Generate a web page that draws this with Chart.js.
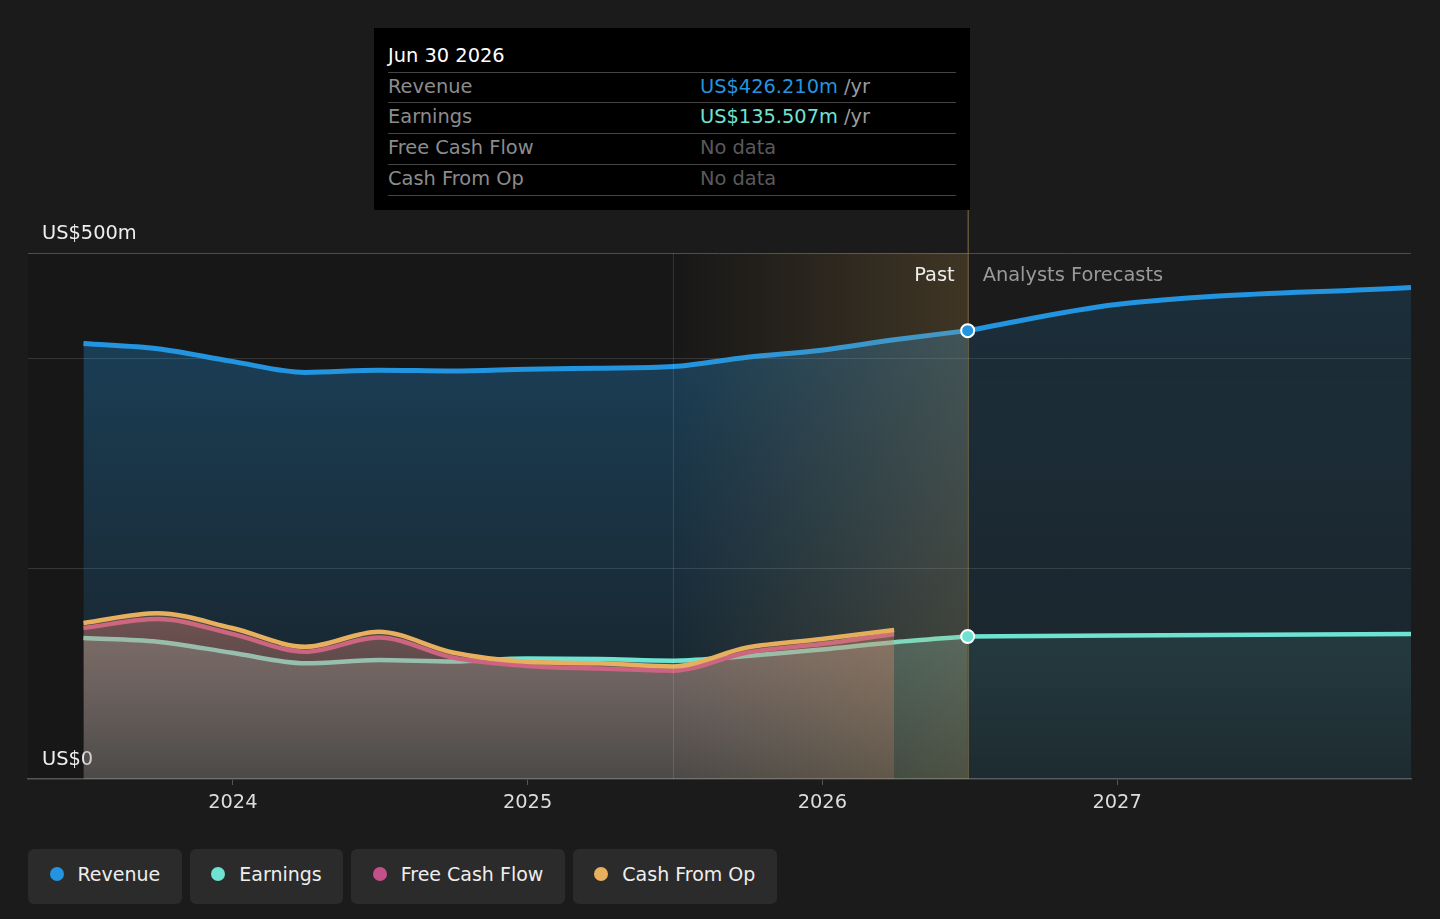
<!DOCTYPE html>
<html>
<head>
<meta charset="utf-8">
<script src="https://cdn.jsdelivr.net/npm/chart.js@4.4.0/dist/chart.umd.min.js"></script>
<style>
  body { margin: 0; background: #1b1b1b; font-family: 'DejaVu Sans', sans-serif; }
  #wrap { position: relative; width: 1440px; height: 919px; overflow: hidden; }
  #chart { position: absolute; left: 0; top: 0; }
  .tip { position: absolute; left: 374px; top: 28px; width: 596px; height: 182px; background: #000; font-size: 19.4px; }
  .tip .title { position: absolute; left: 14px; top: 15px; color: #fff; line-height: 26px; }
  .tip .sep { position: absolute; left: 14px; width: 568px; height: 1px; background: #444; }
  .tip .row { position: absolute; left: 14px; width: 568px; height: 30px; line-height: 29px; }
  .tip .lab { position: absolute; left: 0; color: #8c8c8c; }
  .tip .val { position: absolute; left: 312px; }
  .tip .unit { color: #9a9a9a; }
  .tip .nodata { color: #5a5a5a; }
  .legend { position: absolute; left: 28px; top: 849px; display: flex; gap: 8px; }
  .legend .item { box-sizing: border-box; height: 55px; padding: 0 21.5px 5px 21.5px; display: flex; align-items: center; gap: 14px; background: #2b2b2b; border-radius: 6px; color: #eee; font-size: 19px; }
  .legend .dot { width: 14px; height: 14px; border-radius: 50%; }
</style>
</head>
<body>
<div id="wrap">
  <canvas id="chart" width="1440" height="831"></canvas>
  <div class="tip">
    <div class="title">Jun 30 2026</div>
    <div class="sep" style="top:44px"></div>
    <div class="row" style="top:44px"><span class="lab">Revenue</span><span class="val" style="color:#2394df">US$426.210m<span class="unit"> /yr</span></span></div>
    <div class="sep" style="top:74px"></div>
    <div class="row" style="top:74px"><span class="lab">Earnings</span><span class="val" style="color:#6fe3d2">US$135.507m<span class="unit"> /yr</span></span></div>
    <div class="sep" style="top:105px"></div>
    <div class="row" style="top:105px"><span class="lab">Free Cash Flow</span><span class="val nodata">No data</span></div>
    <div class="sep" style="top:136px"></div>
    <div class="row" style="top:136px"><span class="lab">Cash From Op</span><span class="val nodata">No data</span></div>
    <div class="sep" style="top:167px"></div>
  </div>
  <div class="legend">
    <div class="item"><span class="dot" style="background:#2394df"></span>Revenue</div>
    <div class="item"><span class="dot" style="background:#6fe3d2"></span>Earnings</div>
    <div class="item"><span class="dot" style="background:#c4508a"></span>Free Cash Flow</div>
    <div class="item"><span class="dot" style="background:#e8b05e"></span>Cash From Op</div>
  </div>
</div>
<script>
// quarterly history (US$m, trailing twelve months)
const pastDates = ['2023-06-30', '2023-09-30', '2023-12-31', '2024-03-31', '2024-06-30', '2024-09-30',
  '2024-12-31', '2025-03-31', '2025-06-30', '2025-09-30', '2025-12-31', '2026-03-31', '2026-06-30'];
const revenuePast = [414, 409, 397, 386.5, 388.6, 387.8, 389.5, 390.5, 392, 401, 407.6, 417.5, 426.21];
const earningsPast = [134, 130.5, 120, 110, 113, 111.7, 114.5, 114, 112.4, 117, 123, 130, 135.507];

const cashDates = ['2023-06-30', '2023-09-30', '2023-12-31', '2024-03-31', '2024-06-30', '2024-09-30',
  '2024-12-31', '2025-03-31', '2025-06-30', '2025-09-30', '2025-12-31', '2026-03-31'];
const fcfPast = [143.5, 152, 138, 121, 134.6, 115.5, 107.5, 105, 103, 120.3, 128.3, 137.8];
const cfoPast = [148.3, 157.5, 143.5, 125.7, 140, 120.3, 111.5, 110, 107, 125, 133, 141.6];

// analyst forecasts
const forecastDates = ['2026-06-30', '2026-12-31', '2027-12-31'];
const revenueForecast = [426.21, 451, 467.3];
const earningsForecast = [135.507, 136.3, 137.8];

const yearTicks = [2024, 2025, 2026, 2027];
const yGridValues = [0, 200, 400, 500];
const bandStart = '2025-06-30';
const pastEnd = '2026-06-30';

function toYear(s) {
  const d = new Date(s + 'T00:00:00Z');
  const y = d.getUTCFullYear();
  const start = Date.UTC(y, 0, 1), end = Date.UTC(y + 1, 0, 1);
  return y + (d.getTime() - start) / (end - start);
}
const pts = (dates, vals) => dates.map((d, i) => ({x: toYear(d), y: vals[i]}));

function vGrad(chart, rgb, stops) {
  const {ctx, chartArea} = chart;
  if (!chartArea) return 'rgba(' + rgb + ',0.1)';
  const g = ctx.createLinearGradient(0, chartArea.top, 0, chartArea.bottom);
  stops.forEach(([p, a]) => g.addColorStop(p, 'rgba(' + rgb + ',' + a + ')'));
  return g;
}

const BLUE = '#2394df', TEAL = '#6fe3d2', PINK = '#c4508a', ORANGE = '#e8b05e';

const bgPlugin = {
  id: 'bg',
  beforeDraw(chart) {
    const {ctx, chartArea: a, scales: {x}} = chart;
    ctx.save();
    ctx.fillStyle = '#171717';
    ctx.fillRect(a.left, a.top, x.getPixelForValue(toYear(pastEnd)) - a.left, a.bottom - a.top);
    ctx.restore();
  }
};

const bandPlugin = {
  id: 'band',
  afterDatasetDraw(chart, args) {
    if (chart.data.datasets[args.index].id !== 'cfo') return;
    const {ctx, chartArea: a, scales: {x}} = chart;
    const x0 = x.getPixelForValue(toYear(bandStart));
    const x1 = x.getPixelForValue(toYear(pastEnd));
    ctx.save();
    const g = ctx.createLinearGradient(x0, 0, x1, 0);
    g.addColorStop(0, 'rgba(205,160,85,0.0)');
    g.addColorStop(1, 'rgba(205,160,85,0.22)');
    ctx.fillStyle = g;
    ctx.fillRect(x0, a.top, x1 - x0, a.bottom - a.top);
    ctx.lineWidth = 1;
    ctx.strokeStyle = 'rgba(255,255,255,0.12)';
    ctx.beginPath(); ctx.moveTo(x0 + 0.5, a.top); ctx.lineTo(x0 + 0.5, a.bottom); ctx.stroke();
    ctx.strokeStyle = 'rgba(170,140,85,0.75)';
    ctx.beginPath(); ctx.moveTo(x1 + 0.5, 210); ctx.lineTo(x1 + 0.5, a.bottom); ctx.stroke();
    ctx.font = '19.4px "DejaVu Sans"';
    ctx.textBaseline = 'middle';
    ctx.textAlign = 'right';
    ctx.fillStyle = '#eeeeee';
    ctx.fillText('Past', x1 - 13, a.top + 23);
    ctx.textAlign = 'left';
    ctx.fillStyle = '#9a9a9a';
    ctx.fillText('Analysts Forecasts', x1 + 15, a.top + 23);
    ctx.restore();
  }
};

const lineBase = {
  pointRadius: 0,
  cubicInterpolationMode: 'monotone',
  fill: 'origin',
  borderJoinStyle: 'round'
};

new Chart(document.getElementById('chart'), {
  type: 'line',
  data: {
    datasets: [
      Object.assign({}, lineBase, {
        id: 'revPast', order: 8, data: pts(pastDates, revenuePast), borderColor: BLUE, borderWidth: 5,
        backgroundColor: c => vGrad(c.chart, '35,148,223', [[0, 0.36], [1, 0.07]])
      }),
      Object.assign({}, lineBase, {
        id: 'revFc', order: 7, data: pts(forecastDates, revenueForecast), borderColor: BLUE, borderWidth: 5,
        backgroundColor: c => vGrad(c.chart, '35,148,223', [[0, 0.17], [1, 0.08]])
      }),
      Object.assign({}, lineBase, {
        id: 'earnPast', order: 6, data: pts(pastDates, earningsPast), borderColor: TEAL, borderWidth: 4.5,
        backgroundColor: c => vGrad(c.chart, '150,226,210', [[0, 0.32], [0.7, 0.27], [1, 0.14]])
      }),
      Object.assign({}, lineBase, {
        id: 'earnFc', order: 5, data: pts(forecastDates, earningsForecast), borderColor: TEAL, borderWidth: 4.5,
        backgroundColor: c => vGrad(c.chart, '110,226,210', [[0, 0.14], [0.7, 0.11], [1, 0.04]])
      }),
      Object.assign({}, lineBase, {
        id: 'fcf', order: 4, data: pts(cashDates, fcfPast), borderColor: PINK, borderWidth: 4.5,
        backgroundColor: c => vGrad(c.chart, '196,80,138', [[0, 0.34], [0.7, 0.26], [1, 0.1]])
      }),
      Object.assign({}, lineBase, {
        id: 'cfo', order: 3, data: pts(cashDates, cfoPast), borderColor: ORANGE, borderWidth: 4.5,
        backgroundColor: c => vGrad(c.chart, '232,176,94', [[0, 0.3], [0.7, 0.24], [1, 0.1]])
      }),
      {
        id: 'dots', order: 1, showLine: false,
        data: [pts(forecastDates, revenueForecast)[0], pts(forecastDates, earningsForecast)[0]],
        pointRadius: 6.5, pointBorderWidth: 2, pointBorderColor: '#ffffff',
        pointBackgroundColor: [BLUE, TEAL]
      }
    ]
  },
  options: {
    responsive: false,
    animation: false,
    events: [],
    layout: {padding: {left: 28, right: 29, top: 253, bottom: 0}},
    plugins: {legend: {display: false}, tooltip: {enabled: false}},
    scales: {
      x: {
        type: 'linear',
        min: 2024 - 205 / 295,
        max: toYear('2027-12-31'),
        afterBuildTicks: s => { s.ticks = yearTicks.map(v => ({value: v})); },
        afterFit: s => { s.height = 52; },
        ticks: {color: '#dddddd', font: {family: 'DejaVu Sans', size: 19.4}, padding: 6, callback: v => String(v)},
        grid: {drawOnChartArea: false, drawTicks: true, tickLength: 6, color: '#555555'},
        border: {color: '#555555', width: 1.5}
      },
      y: {
        min: 0,
        max: 500,
        afterBuildTicks: s => { s.ticks = yGridValues.map(v => ({value: v})); },
        afterFit: s => { s.width = 0; },
        ticks: {
          mirror: true, padding: 14, labelOffset: -19, color: '#eeeeee',
          font: {family: 'DejaVu Sans', size: 19.4},
          callback: v => v === 500 ? 'US$500m' : v === 0 ? 'US$0' : ''
        },
        grid: {
          drawTicks: false,
          color: c => c.tick.value === 500 ? '#4d4d4d' : c.tick.value === 0 ? 'rgba(0,0,0,0)' : '#363636'
        },
        border: {display: false}
      }
    }
  },
  plugins: [bgPlugin, bandPlugin]
});
</script>
</body>
</html>
